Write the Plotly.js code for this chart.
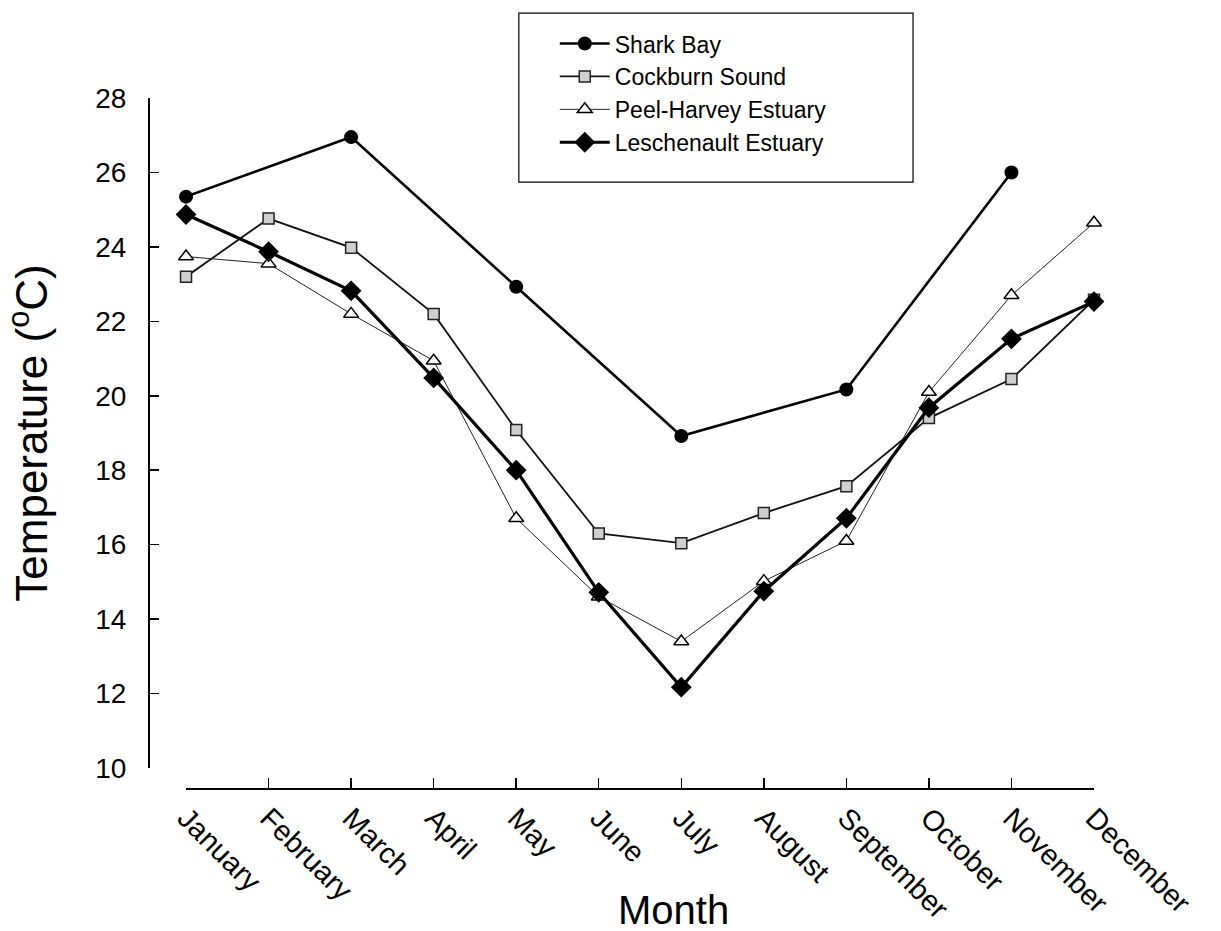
<!DOCTYPE html>
<html>
<head>
<meta charset="utf-8">
<script src="https://cdn.plot.ly/plotly-3.0.1.min.js"></script>
<style>html,body{margin:0;padding:0;background:#fff;}#chart{width:1221px;height:931px;}</style>
</head>
<body>
<div id="chart"></div>
<script>
const months = ["January","February","March","April","May","June","July","August","September","October","November","December"];
const yTicks = [10,12,14,16,18,20,22,24,26,28];
const sharkBay = [25.35, null, 26.95, null, 22.93, null, 18.92, null, 20.17, null, 26.0, null];
const cockburnSound = [23.2, 24.76, 23.98, 22.2, 19.08, 16.3, 16.04, 16.85, 17.57, 19.4, 20.45, 22.58];
const peelHarvey = [23.74, 23.55, 22.2, 20.94, 16.71, 14.6, 13.4, 15.02, 16.1, 20.1, 22.7, 24.65];
const leschenault = [24.87, 23.87, 22.82, 20.48, 18.0, 14.72, 12.17, 14.75, 16.71, 19.68, 21.53, 22.53];

const FONT = "Liberation Sans, Arial, sans-serif";

const traces = [
  {name:"Shark Bay", x:months, y:sharkBay, mode:"lines+markers", connectgaps:true, cliponaxis:false,
   line:{color:"#000", width:2.6}, marker:{symbol:"circle", size:14, color:"#000"}},
  {name:"Cockburn Sound", x:months, y:cockburnSound, mode:"lines+markers", cliponaxis:false,
   line:{color:"#111", width:1.8}, marker:{symbol:"square", size:11, color:"#cfcfcf", line:{color:"#222", width:1.5}}},
  {name:"Peel-Harvey Estuary", x:months, y:peelHarvey, mode:"lines+markers", cliponaxis:false,
   line:{color:"#222", width:1}, marker:{symbol:"triangle-up", size:13, color:"#fff", line:{color:"#000", width:1.5}}},
  {name:"Leschenault Estuary", x:months, y:leschenault, mode:"lines+markers", cliponaxis:false,
   line:{color:"#000", width:3.2}, marker:{symbol:"diamond", size:16, color:"#000"}}
];

const layout = {
  width:1221, height:931,
  margin:{l:148, r:127, t:98, b:143},
  paper_bgcolor:"#fff", plot_bgcolor:"#fff",
  font:{family:FONT, color:"#000"},
  showlegend:true,
  xaxis:{
    type:"category", categoryorder:"array", categoryarray:months,
    range:[0,11], domain:[0.0402,1], anchor:"free", position:0,
    showline:true, linecolor:"#000", linewidth:1.5,
    ticks:"inside", ticklen:10, tickwidth:1.5, tickcolor:"#000",
    tickangle:45, tickfont:{size:29, family:FONT},
    showgrid:false, zeroline:false
  },
  yaxis:{
    range:[10,28], domain:[0.029,1], anchor:"free", position:0,
    tickvals:yTicks, ticktext:yTicks.map(String),
    showline:true, linecolor:"#000", linewidth:1.5,
    ticks:"inside", ticklen:9, tickwidth:1.5, tickcolor:"#000",
    tickfont:{size:28, family:FONT}, ticklabelstandoff:16,
    showgrid:false, zeroline:false,
    title:{text:"Temperature (<sup>o</sup>C)", font:{size:44, family:FONT}, standoff:32}
  },
  legend:{
    x:0.43, y:1.11, xanchor:"left", yanchor:"top",
    bgcolor:"rgba(0,0,0,0)", borderwidth:0, itemwidth:50,
    font:{size:23, family:FONT}, tracegroupgap:0
  },
  annotations:[
    {text:"Month", xref:"paper", yref:"paper", x:0.556, y:-0.177, xanchor:"center", yanchor:"middle",
     showarrow:false, font:{size:40, family:FONT}}
  ],
  shapes:[
    {type:"rect", xref:"paper", yref:"paper", x0:0.392, x1:0.8087, y0:0.878, y1:1.123,
     line:{color:"#000", width:1.2}, fillcolor:"rgba(0,0,0,0)", layer:"below"}
  ]
};

Plotly.newPlot("chart", traces, layout, {displayModeBar:false, staticPlot:true});
</script>
</body>
</html>
